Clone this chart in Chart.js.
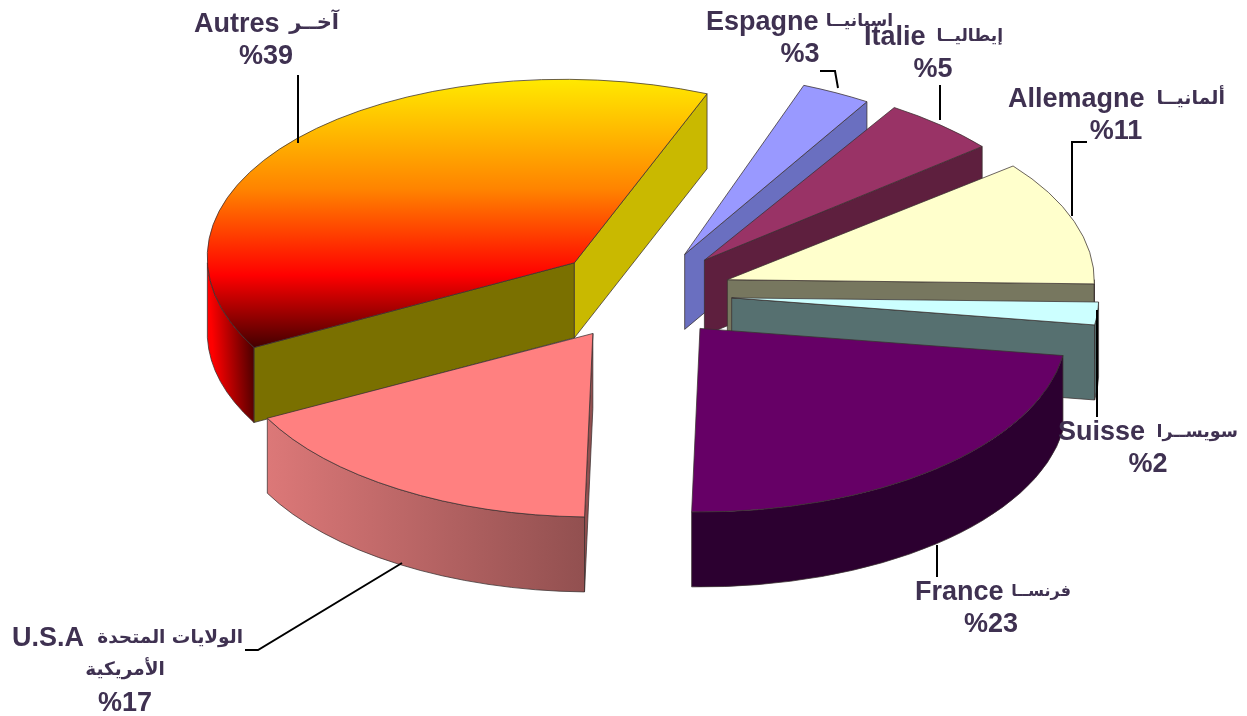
<!DOCTYPE html>
<html><head><meta charset="utf-8">
<style>html,body{margin:0;padding:0;background:#fff}canvas{display:block}</style>
<script src="https://cdn.jsdelivr.net/npm/chart.js@4/dist/chart.umd.min.js"></script>
</head><body>
<canvas id="c" width="1247" height="716"></canvas>
<script>
// ---- data ----
const namesFr = ["Autres","Espagne","Italie","Allemagne","Suisse","France","U.S.A"];
const namesAr = ["آخــر","اسبانيــا","إيطاليــا","ألمانيــا","سويســرا","فرنســا","الولايات المتحدة"];
const extraAr = ["","","","","","","الأمريكية"];
const shares  = [39,3,5,11,2,23,17];

// ---- style ----
const topColors  = [null,"#9999ff","#993366","#ffffcc","#ccffff","#660066","#ff8080"];
const wallColors = [["#ff0000","#4a0000"],["#6a6fc0","#6a6fc0"],["#5e1f3e","#5e1f3e"],["#77775f","#77775f"],["#567070","#567070"],["#2c0030","#2c0030"],["#dc7878","#925050"]];
const startFaceColors = ["#7a7000","#6a6fc0","#5e1f3e","#77775f","#567070","#2c0030","#925050"];
const endFaceColors   = ["#c9b900","#6a6fc0","#5e1f3e","#77775f","#567070","#2c0030","#925050"];
const explodeBy = [92,90,92,90,90,90,93];
const leanBy    = [0.06,0.14,0.09,0.02,0,0,0];   // perspective lean of the far slices
const TILT = 0.5, DEPTH = 75, CX = 642, CY = 294, RADIUS = 367, ROTATION = 242.5, FLAME_SHIFT = 60;

const labelPlacement = [
  {l:194,r:339,y:25,c:266,as:21,lead:[[298,75],[298,143]]},
  {l:706,r:893,y:23,c:800,as:17,lead:[[820,71],[835,71],[838,88]]},
  {l:864,r:1003,y:38,c:933,as:17,lead:[[940,85],[940,120]]},
  {l:1008,r:1225,y:100,c:1116,as:19,lead:[[1087,142],[1072,142],[1072,216]]},
  {l:1058,r:1238,y:433,c:1148,as:17.5,lead:[[1097,310],[1097,417]]},
  {l:915,r:1071,y:593,c:991,as:16,lead:[[937,545],[937,577]]},
  {l:12,r:243,y:639,c:125,as:18.5,lead:[[402,563],[258,650],[245,650]]}
];
const TEXT = "#3f3151", LATIN = '700 27px "Liberation Sans"', arabicFont = s => '700 ' + s + 'px "DejaVu Sans"';

const canvas = document.getElementById("c");
const g = canvas.getContext("2d");
const userY = sy => CY + (sy - CY) / TILT + FLAME_SHIFT;
const flame = g.createLinearGradient(0, userY(82), 0, userY(352));
flame.addColorStop(0, "#ffe800");
flame.addColorStop(0.4, "#ff8400");
flame.addColorStop(0.72, "#ff0000");
flame.addColorStop(1, "#3a0000");
topColors[0] = flame;

function tilt(ctx){ ctx.translate(0, CY); ctx.scale(1, TILT); ctx.translate(0, -CY); }

const pie3d = {
  id: "pie3d",
  beforeDatasetsDraw(chart){
    const ctx = chart.ctx, arcs = chart.getDatasetMeta(0).data;
    const D = DEPTH / TILT;
    const apex = (a,i) => {
      const mid = (a.startAngle + a.endAngle) / 2;
      return [Math.cos(mid) * explodeBy[i], Math.sin(mid) * explodeBy[i]];
    };
    const order = arcs.map((a,i)=>i).sort((p,q)=>{
      const m = a => Math.sin((a.startAngle + a.endAngle) / 2);
      return m(arcs[p]) - m(arcs[q]);
    });
    for (const i of order){
      const a = arcs[i], d = apex(a,i), ax = a.x + d[0], ay = a.y + d[1], R = a.outerRadius;
      const s = leanBy[i] * TILT, bx = ax - s * D;   // bottom rim compensated so walls stay vertical
      ctx.save(); tilt(ctx);
      ctx.transform(1, 0, s, 1, -s * ay, 0);
      ctx.lineWidth = 1; ctx.strokeStyle = "#3a3030"; ctx.lineJoin = "round";
      const face = (ang, col) => {
        const cs = Math.cos(ang) * R, ey = ay + Math.sin(ang) * R;
        ctx.beginPath(); ctx.moveTo(ax, ay); ctx.lineTo(ax + cs, ey); ctx.lineTo(bx + cs, ey + D); ctx.lineTo(bx, ay + D); ctx.closePath();
        ctx.fillStyle = col; ctx.fill(); ctx.stroke();
      };
      if (Math.cos(a.startAngle) < 0) face(a.startAngle, startFaceColors[i]);
      if (Math.cos(a.endAngle) > 0) face(a.endAngle, endFaceColors[i]);
      for (let k = -1; k <= 2; k++){
        const lo = Math.max(a.startAngle, 2 * Math.PI * k), hi = Math.min(a.endAngle, Math.PI + 2 * Math.PI * k);
        if (hi <= lo) continue;
        const x0 = ax + Math.cos(hi) * R, x1 = ax + Math.cos(lo) * R;
        const gr = ctx.createLinearGradient(x0, 0, x1, 0);
        gr.addColorStop(0, wallColors[i][0]); gr.addColorStop(1, wallColors[i][1]);
        ctx.beginPath();
        ctx.arc(ax, ay, R, lo, hi);
        ctx.arc(bx, ay + D, R, hi, lo, true);
        ctx.closePath();
        ctx.fillStyle = gr; ctx.fill(); ctx.stroke();
      }
      ctx.restore();
    }
    // top faces: the library's own arc elements, tilted and pulled apart
    arcs.forEach((a,i)=>{
      const d = apex(a,i), s = leanBy[i] * TILT;
      ctx.save(); tilt(ctx); ctx.translate(d[0], d[1]);
      ctx.transform(1, 0, s, 1, -s * a.y, 0);
      a.draw(ctx);
      ctx.restore();
    });
  },
  beforeDatasetDraw(){ return false; },
  afterDatasetsDraw(chart){
    const ctx = chart.ctx;
    // leaders
    ctx.save();
    ctx.strokeStyle = "#000"; ctx.lineWidth = 2;
    labelPlacement.forEach(p=>{
      ctx.beginPath();
      p.lead.forEach((pt,j)=> j ? ctx.lineTo(pt[0],pt[1]) : ctx.moveTo(pt[0],pt[1]));
      ctx.stroke();
    });
    // labels
    ctx.fillStyle = TEXT; ctx.textBaseline = "middle";
    labelPlacement.forEach((p,i)=>{
      ctx.font = LATIN; ctx.textAlign = "left"; ctx.fillText(namesFr[i], p.l, p.y);
      ctx.font = arabicFont(p.as); ctx.textAlign = "right"; ctx.direction = "rtl";
      ctx.fillText(namesAr[i], p.r, p.y - 1);
      ctx.direction = "ltr";
      let y = p.y + 32;
      if (extraAr[i]){ ctx.textAlign = "center"; ctx.fillText(extraAr[i], p.c, y - 1); y += 33; }
      ctx.font = LATIN; ctx.textAlign = "center";
      ctx.fillText("%" + shares[i], p.c, y);
    });
    ctx.restore();
  }
};

new Chart(canvas, {
  type: "pie",
  data: {
    labels: namesFr.map((n,i)=> n + " " + namesAr[i]),
    datasets: [{
      data: shares,
      backgroundColor: topColors,
      borderColor: "#3a3030",
      borderWidth: 1,
      radius: RADIUS,
      clip: false
    }]
  },
  options: {
    responsive: false,
    animation: false,
    events: [],
    rotation: ROTATION,
    layout: { padding: { left: 2*CX-1247, bottom: 716-2*CY } },
    plugins: { legend: {display:false}, tooltip: {enabled:false}, title:{display:false} }
  },
  plugins: [pie3d]
});
</script>
</body></html>
